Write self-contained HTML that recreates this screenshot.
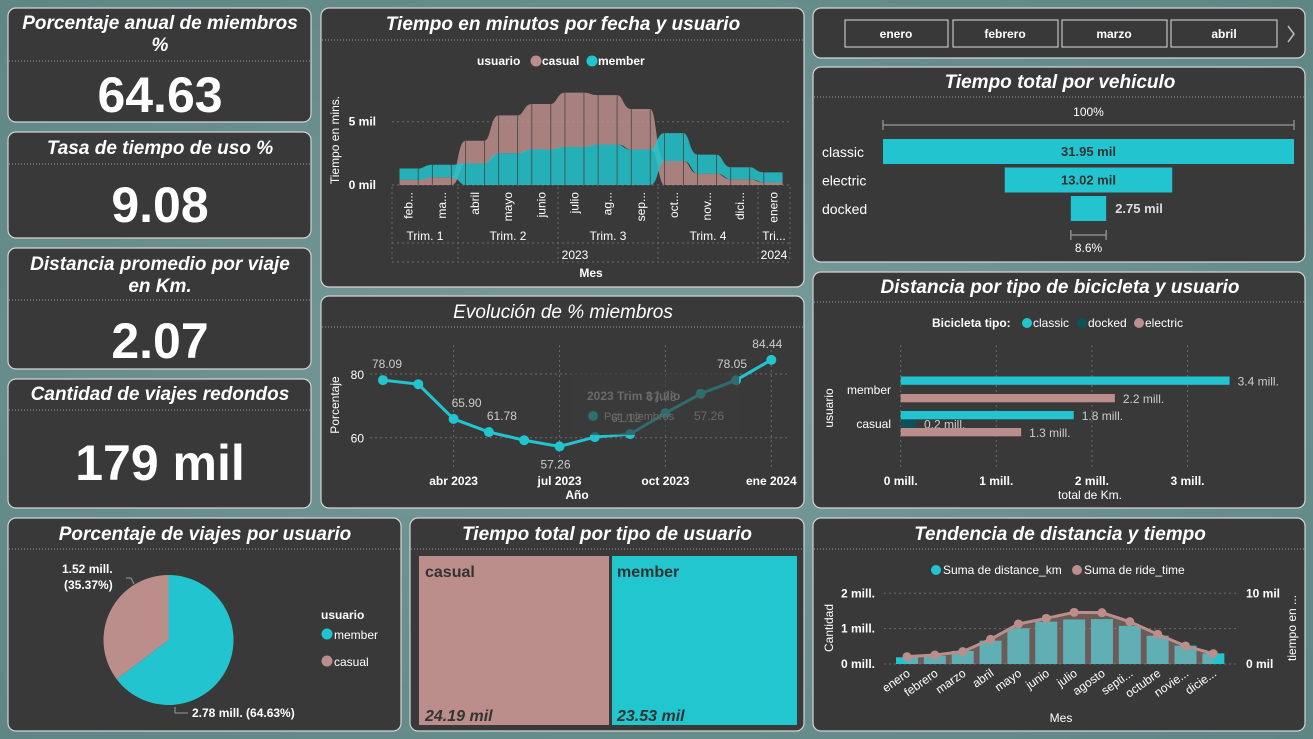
<!DOCTYPE html>
<html><head><meta charset="utf-8"><style>
html,body{margin:0;padding:0;width:1313px;height:739px;overflow:hidden;background:#6b8f8f;}
svg{display:block;font-family:"Liberation Sans",sans-serif;}
.t{fill:#fff;font-weight:bold;font-style:italic;font-size:19px;text-anchor:middle}
.sep{stroke:#9a9a9a;stroke-dasharray:1 2;stroke-width:1}
.pn{fill:#393939;stroke:#d4d4d4;stroke-width:1.2}
.k{fill:#fff;font-weight:bold;font-size:50px;text-anchor:middle}
.ax{fill:#fff;font-size:12px}
.axb{fill:#fff;font-size:12px;font-weight:bold}
.grid{stroke:#6a6a6a;stroke-dasharray:2 3;stroke-width:1}
</style></head><body>
<svg id="root" width="1313" height="739" viewBox="0 0 1313 739">
<defs><radialGradient id="bg" cx="50%" cy="50%" r="70%"><stop offset="0" stop-color="#7a9c9c"/><stop offset="1" stop-color="#5f8585"/></radialGradient></defs>
<rect width="1313" height="739" fill="url(#bg)"/>
<g>
<rect class="pn" x="8" y="8" width="303" height="114" rx="8"/>
<text class="t" x="160" y="29">Porcentaje anual de miembros</text>
<text class="t" x="160" y="51">%</text>
<line class="sep" x1="9" x2="310" y1="61" y2="61"/>
<text class="k" x="160" y="112">64.63</text></g>
<g>
<rect class="pn" x="8" y="132" width="303" height="106" rx="8"/>
<text class="t" x="160" y="154">Tasa de tiempo de uso %</text>
<line class="sep" x1="9" x2="310" y1="164" y2="164"/>
<text class="k" x="160" y="222">9.08</text></g>
<g>
<rect class="pn" x="8" y="248" width="303" height="121" rx="8"/>
<text class="t" x="160" y="270">Distancia promedio por viaje</text>
<text class="t" x="160" y="292">en Km.</text>
<line class="sep" x1="9" x2="310" y1="300" y2="300"/>
<text class="k" x="160" y="358">2.07</text></g>
<g>
<rect class="pn" x="8" y="379" width="303" height="129" rx="8"/>
<text class="t" x="160" y="400">Cantidad de viajes redondos</text>
<line class="sep" x1="9" x2="310" y1="410" y2="410"/>
<text class="k" x="160" y="480">179 mil</text></g>
<rect class="pn" x="321" y="8" width="483" height="279" rx="8"/>
<text class="t" x="563" y="30">Tiempo en minutos por fecha y usuario</text>
<line class="sep" x1="322" x2="803" y1="40" y2="40"/>
<rect class="pn" x="321" y="296" width="483" height="212" rx="8"/>
<text class="t" x="563" y="318" style="font-weight:normal">Evolución de % miembros</text>
<line class="sep" x1="322" x2="803" y1="327" y2="327"/>
<rect class="pn" x="813" y="8" width="492" height="50" rx="8"/>
<rect class="pn" x="813" y="67" width="492" height="195" rx="8"/>
<text class="t" x="1060" y="88">Tiempo total por vehiculo</text>
<line class="sep" x1="814" x2="1304" y1="97" y2="97"/>
<rect class="pn" x="813" y="272" width="492" height="236" rx="8"/>
<text class="t" x="1060" y="293">Distancia por tipo de bicicleta y usuario</text>
<line class="sep" x1="814" x2="1304" y1="302" y2="302"/>
<rect class="pn" x="8" y="518" width="393" height="213" rx="8"/>
<text class="t" x="205" y="540">Porcentaje de viajes por usuario</text>
<line class="sep" x1="9" x2="400" y1="549" y2="549"/>
<rect class="pn" x="410" y="518" width="394" height="213" rx="8"/>
<text class="t" x="607" y="540">Tiempo total por tipo de usuario</text>
<line class="sep" x1="411" x2="803" y1="549" y2="549"/>
<rect class="pn" x="813" y="518" width="492" height="213" rx="8"/>
<text class="t" x="1060" y="540">Tendencia de distancia y tiempo</text>
<line class="sep" x1="814" x2="1304" y1="549" y2="549"/>

<g><rect x="845" y="20" width="103" height="27" fill="none" stroke="#ddd"/><text class="axb" x="896" y="38" text-anchor="middle" font-size="13">enero</text></g>
<g><rect x="953" y="20" width="105" height="27" fill="none" stroke="#ddd"/><text class="axb" x="1005" y="38" text-anchor="middle">febrero</text></g>
<g><rect x="1062" y="20" width="105" height="27" fill="none" stroke="#ddd"/><text class="axb" x="1114" y="38" text-anchor="middle">marzo</text></g>
<g><rect x="1171" y="20" width="106" height="27" fill="none" stroke="#ddd"/><text class="axb" x="1224" y="38" text-anchor="middle">abril</text></g>
<path d="M1288 26 L1294 34 L1288 42" fill="none" stroke="#bbb" stroke-width="1.5"/>

<rect x="419" y="556" width="190" height="169" fill="#bc8e8b"/>
<rect x="612" y="556" width="185" height="169" fill="#22c6cf"/>
<text x="425" y="577" fill="#333" font-size="16" font-weight="bold">casual</text>
<text x="617" y="577" fill="#333" font-size="16" font-weight="bold">member</text>
<text x="425" y="721" fill="#333" font-size="16" font-weight="bold" font-style="italic">24.19 mil</text>
<text x="617" y="721" fill="#333" font-size="16" font-weight="bold" font-style="italic">23.53 mil</text>

<g id="c1"></g><g id="c2"></g><g id="c3"></g><g id="c4"></g><g id="c5"></g><g id="c6"></g>
</svg>
<script>
const NS='http://www.w3.org/2000/svg';
function mk(tag,attrs,parent,txt){const e=document.createElementNS(NS,tag);for(const k in attrs)e.setAttribute(k,attrs[k]);if(txt!==undefined)e.textContent=txt;parent.appendChild(e);return e;}
const TEAL='#22c5cf',ROSE='#bc8e8b',DTEAL='#0e5158';

const c1Months=['feb...','ma...','abril','mayo','junio','julio','ag...','sep...','oct...','nov...','dici...','enero'];
const c1Casual=[400,600,1800,3000,3600,4300,3900,3200,1900,900,450,200];
const c1Member=[900,1000,1700,2500,2800,3000,3200,2800,2200,1500,950,800];
const c1Ticks=[0,5000];
const c1TickLabels=['0 mil','5 mil'];
{
 const g=document.getElementById('c1');
 const y=v=>185-v*63.3/5000, x=i=>408.7+i*33.15, hw=9.5;
 c1Ticks.forEach((t,i)=>{
  const l=mk('line',{x1:392,x2:790,y1:y(t),y2:y(t),class:'grid'},g);
  
  
  const tx=mk('text',{x:376,y:y(t)+4,class:'axb','text-anchor':'end'},g,c1TickLabels[i]);
  
  
 });
 function band(getB,getT,color,name){
  let top='',bot=[];
  c1Months.forEach((m,i)=>{
   const x0=x(i)-hw,x1=x(i)+hw;
   top+=(i?' C'+(x0-8)+' '+y(getT(i-1))+' '+(x0-8)+' '+y(getT(i))+' ':'M')+x0+' '+y(getT(i))+' L'+x1+' '+y(getT(i));
   bot.unshift([x0,x1,i]);
  });
  let d=top;
  bot.forEach(([x0,x1,i],k)=>{
   if(k===0)d+=' L'+x1+' '+y(getB(i));
   else d+=' C'+(x1+8)+' '+y(getB(i+1))+' '+(x1+8)+' '+y(getB(i))+' '+x1+' '+y(getB(i));
   d+=' L'+x0+' '+y(getB(i));
  });
  d+='Z';
  const p=mk('path',{d:d,fill:color,opacity:0.85},g);
  
  
 }
 band(i=>c1Casual[i]<=c1Member[i]?0:c1Member[i], i=>c1Casual[i]<=c1Member[i]?c1Casual[i]:c1Casual[i]+c1Member[i], ROSE,'casual-ribbon');
 band(i=>c1Member[i]<c1Casual[i]?0:c1Casual[i], i=>c1Member[i]<c1Casual[i]?c1Member[i]:c1Casual[i]+c1Member[i], TEAL,'member-ribbon');
 c1Months.forEach((m,i)=>{
  [x(i)-hw,x(i)+hw].forEach(xx=>{mk('line',{x1:xx,x2:xx,y1:185,y2:y(c1Casual[i]+c1Member[i]),stroke:'#444','stroke-width':0.8},g);});
  const t=mk('text',{x:0,y:0,class:'ax',transform:`translate(${x(i)+4},${192}) rotate(-90)`,'text-anchor':'end'},g,m);
  
  
 });
 [392,458,558,658,758,790].forEach(xx=>mk('line',{x1:xx,x2:xx,y1:187,y2:262,class:'grid'},g));
 [243,262].forEach(yy=>mk('line',{x1:392,x2:790,y1:yy,y2:yy,class:'grid'},g));
 [['Trim. 1',425],['Trim. 2',508],['Trim. 3',608],['Trim. 4',708],['Tri...',774]].forEach(([s,xx])=>mk('text',{x:xx,y:240,class:'ax','text-anchor':'middle'},g,s));
 mk('text',{x:575,y:259,class:'ax','text-anchor':'middle'},g,'2023');
 mk('text',{x:774,y:259,class:'ax','text-anchor':'middle'},g,'2024');
 const xt=mk('text',{x:591,y:277,class:'axb','text-anchor':'middle'},g,'Mes');
 
 
 const yt=mk('text',{x:0,y:0,class:'ax',transform:'translate(339,140) rotate(-90)','text-anchor':'middle','font-size':'11'},g,'Tiempo en mins.');
 
 
 mk('text',{x:477,y:65,class:'axb'},g,'usuario');
 mk('circle',{cx:536,cy:61,r:5.5,fill:ROSE},g);
 mk('text',{x:542,y:65,class:'axb'},g,'casual');
 mk('circle',{cx:592,cy:61,r:5.5,fill:TEAL},g);
 mk('text',{x:598,y:65,class:'axb'},g,'member');
}

const c2Values=[78.09,76.8,65.90,61.78,59.2,57.26,60.2,61.12,67.73,73.8,78.05,84.44];
const c2Labels=['78.09','','65.90','61.78','','57.26','','61.12','67.73','','78.05','84.44'];
const c2Ticks=[60,80];
const c2XTicks=['abr 2023','jul 2023','oct 2023','ene 2024'];
const c2XTickIdx=[2,5,8,11];
{
 const g=document.getElementById('c2');
 const x=i=>383+i*35.3, y=v=>437.7-(v-60)*63.7/20;
 c2Ticks.forEach(t=>{mk('line',{x1:370,x2:790,y1:y(t),y2:y(t),class:'grid'},g);mk('text',{x:364,y:y(t)+5,class:'ax','text-anchor':'end'},g,String(t));});
 c2XTickIdx.forEach((ix,k)=>{mk('line',{x1:x(ix),x2:x(ix),y1:345,y2:470,class:'grid'},g);
  const t=mk('text',{x:x(ix),y:485,class:'axb','text-anchor':'middle'},g,c2XTicks[k]);
  
  });
 const l=mk('polyline',{points:c2Values.map((v,i)=>x(i)+','+y(v)).join(' '),fill:'none',stroke:TEAL,'stroke-width':3},g);
 
 
 c2Values.forEach((v,i)=>{
  const c=mk('circle',{cx:x(i),cy:y(v),r:5,fill:TEAL},g);
  
  
  if(c2Labels[i]){const below=(i===5);mk('text',{x:x(i)+(i===0?4:(i===2||i===3?13:-4)),y:below?y(v)+22:y(v)-12,fill:'#ccc','font-size':'12','text-anchor':'middle'},g,c2Labels[i]);}
 });
 const tip=mk('g',{},g);
 
 
 mk('rect',{x:571,y:372,width:168,height:63,fill:'#3a3a3a',opacity:0.65},tip);
 mk('text',{x:587,y:400,fill:'#6a6a6a','font-size':'12','font-weight':'bold'},tip,'2023 Trim 3 julio');
 mk('circle',{cx:593,cy:416,r:5,fill:'#2b6f73'},tip);
 mk('text',{x:604,y:420,fill:'#6a6a6a','font-size':'11'},tip,'Pct_miembros');
 mk('text',{x:709,y:420,fill:'#6a6a6a','font-size':'12','text-anchor':'middle'},tip,'57.26');
 const xt=mk('text',{x:577,y:499,class:'axb','text-anchor':'middle'},g,'Año');
 
 
 const yt=mk('text',{x:0,y:0,class:'ax',transform:'translate(339,405) rotate(-90)','text-anchor':'middle'},g,'Porcentaje');
 
 
}

const c3Cats=['classic','electric','docked'];
const c3Values=[31.95,13.02,2.75];
const c3Labels=['31.95 mil','13.02 mil','2.75 mil'];
{
 const g=document.getElementById('c3');
 const cx=1088.5, W=411, max=Math.max(...c3Values);
 mk('text',{x:cx,y:116,class:'ax','text-anchor':'middle'},g,'100%');
 mk('path',{d:`M883 120 V130 M883 125 H1294 M1294 120 V130`,stroke:'#888',fill:'none','stroke-width':1.5},g);
 c3Values.forEach((v,i)=>{
  const w=v/max*W, yy=139+i*28.5;
  const r=mk('rect',{x:cx-w/2,y:yy,width:w,height:25,fill:TEAL},g);
  
  
  mk('text',{x:822,y:yy+18,fill:'#fff','font-size':'14'},g,c3Cats[i]);
  if(w>80) mk('text',{x:cx,y:yy+17,fill:'#333','font-size':'13','font-weight':'bold','text-anchor':'middle'},g,c3Labels[i]);
  else mk('text',{x:cx+w/2+9,y:yy+17,fill:'#ddd','font-size':'13','font-weight':'bold'},g,c3Labels[i]);
 });
 const wl=c3Values[2]/max*W;
 mk('path',{d:`M${cx-wl/2} 230 V240 M${cx-wl/2} 235 H${cx+wl/2} M${cx+wl/2} 230 V240`,stroke:'#888',fill:'none','stroke-width':1.5},g);
 mk('text',{x:cx,y:252,class:'ax','text-anchor':'middle'},g,(c3Values[2]/max*100).toFixed(1)+'%');
}

const c4Users=['member','casual'];
const c4Classic=[3.44,1.81];
const c4Docked=[0,0.16];
const c4Electric=[2.24,1.26];
const c4Ticks=[0,1,2,3];
{
 const g=document.getElementById('c4');
 const x=v=>900.7+v*95.6;
 c4Ticks.forEach(t=>{mk('line',{x1:x(t),x2:x(t),y1:345,y2:470,class:'grid'},g);
  const tx=mk('text',{x:x(t),y:485,class:'axb','text-anchor':'middle'},g,t+' mill.');
  
  });
 const groups=[[{v:c4Classic[0],c:TEAL,y:376.5},{v:c4Electric[0],c:ROSE,y:394}],[{v:c4Classic[1],c:TEAL,y:411},{v:c4Docked[1],c:DTEAL,y:419.5},{v:c4Electric[1],c:ROSE,y:428}]];
 groups.forEach((gr,gi)=>{
  mk('text',{x:891,y:gi?428:394,class:'ax','text-anchor':'end','font-size':'13'},g,c4Users[gi]);
  gr.forEach(b=>{
   const r=mk('rect',{x:x(0),y:b.y,width:x(b.v)-x(0),height:8.3,fill:b.c},g);
   
   
   mk('text',{x:x(b.v)+8,y:b.y+9,fill:'#ccc','font-size':'12'},g,b.v.toFixed(1)+' mill.');
  });
 });
 mk('text',{x:1090,y:499,class:'ax','text-anchor':'middle'},g,'total de Km.');
 mk('text',{x:0,y:0,class:'ax',transform:'translate(833,408) rotate(-90)','text-anchor':'middle'},g,'usuario');
 mk('text',{x:932,y:327,class:'axb'},g,'Bicicleta tipo:');
 [['classic',TEAL,1027],['docked',DTEAL,1082],['electric',ROSE,1139]].forEach(([s,c,xx])=>{mk('circle',{cx:xx,cy:323,r:5,fill:c},g);mk('text',{x:xx+6,y:327,class:'ax'},g,s);});
}

const c5Cats=['member','casual'];
const c5Values=[2.78,1.52];
const c5Labels=['2.78 mill. (64.63%)','1.52 mill.','(35.37%)'];
{
 const g=document.getElementById('c5');
 const cx=168.5,cy=640,r=65,tot=c5Values.reduce((a,b)=>a+b,0);
 const col=[TEAL,ROSE];
 let a0=-Math.PI/2;
 c5Values.forEach((v,i)=>{
  const a1=a0+v/tot*2*Math.PI;
  const large=(a1-a0)>Math.PI?1:0;
  const p=mk('path',{d:`M${cx} ${cy} L${cx+r*Math.cos(a0)} ${cy+r*Math.sin(a0)} A${r} ${r} 0 ${large} 1 ${cx+r*Math.cos(a1)} ${cy+r*Math.sin(a1)}Z`,fill:col[i]},g);
  
  
  a0=a1;
 });
 mk('path',{d:'M175 707 V713 H188',stroke:'#999',fill:'none'},g);
 mk('path',{d:'M126 578 H131 L134 584',stroke:'#999',fill:'none'},g);
 mk('text',{x:192,y:717,fill:'#fff','font-size':'12','font-weight':'bold'},g,c5Labels[0]);
 mk('text',{x:62,y:573,fill:'#fff','font-size':'12','font-weight':'bold'},g,c5Labels[1]);
 mk('text',{x:64,y:589,fill:'#fff','font-size':'12','font-weight':'bold'},g,c5Labels[2]);
 mk('text',{x:321,y:619,class:'axb','font-size':'14'},g,'usuario');
 mk('circle',{cx:327,cy:634,r:5.5,fill:TEAL},g);mk('text',{x:334,y:639,class:'ax','font-size':'14'},g,'member');
 mk('circle',{cx:327,cy:661,r:5.5,fill:ROSE},g);mk('text',{x:334,y:666,class:'ax','font-size':'14'},g,'casual');
}

const c6Months=['enero','febrero','marzo','abril','mayo','junio','julio','agosto','septi...','octubre','novie...','dicie...'];
const c6Distance=[0.19,0.23,0.37,0.66,1.01,1.20,1.26,1.27,1.08,0.80,0.52,0.30];
const c6Time=[1.04,1.27,1.75,3.49,5.66,6.46,7.31,7.26,5.99,4.20,2.55,1.46];
const c6LeftTicks=['0 mill.','1 mill.','2 mill.'];
const c6RightTicks=['0 mil','10 mil'];
{
 const g=document.getElementById('c6');
 const x=i=>907+i*27.85, yL=v=>664-v*35.35, yR=v=>664-v*7.07;
 [0,1,2].forEach(t=>{mk('line',{x1:884,x2:1237,y1:yL(t),y2:yL(t),class:'grid'},g);
  mk('text',{x:875,y:yL(t)+4,class:'axb','text-anchor':'end'},g,c6LeftTicks[t]);});
 mk('text',{x:1246,y:yR(0)+4,class:'axb'},g,c6RightTicks[0]);
 mk('text',{x:1246,y:yR(10)+4,class:'axb'},g,c6RightTicks[1]);
 c6Distance.forEach((v,i)=>{
  const r=mk('rect',{x:x(i)-11,y:yL(v),width:22,height:yL(0)-yL(v),fill:TEAL},g);
  
  
 });
 const pts=c6Time.map((v,i)=>[x(i),yR(v)]);
 mk('path',{d:'M'+pts.map(p=>p.join(' ')).join(' L')+` L${x(11)} 664 L${x(0)} 664Z`,fill:'#bc8e8b',opacity:0.4},g);
 const l=mk('polyline',{points:pts.map(p=>p.join(',')).join(' '),fill:'none',stroke:ROSE,'stroke-width':3},g);
 
 
 pts.forEach(p=>{const c=mk('circle',{cx:p[0],cy:p[1],r:4.5,fill:ROSE},g);
  
  });
 c6Months.forEach((m,i)=>{const t=mk('text',{x:0,y:0,class:'ax','font-size':'12',fill:'#ddd','text-anchor':'end',transform:`translate(${x(i)+4},${675}) rotate(-35)`},g,m);
  
  });
 mk('text',{x:1061,y:722,class:'ax','text-anchor':'middle'},g,'Mes');
 mk('text',{x:0,y:0,class:'ax',transform:'translate(833,628) rotate(-90)','text-anchor':'middle'},g,'Cantidad');
 mk('text',{x:0,y:0,class:'ax',transform:'translate(1296,628) rotate(-90)','text-anchor':'middle'},g,'tiempo en ...');
 mk('circle',{cx:936,cy:570,r:5,fill:TEAL},g);mk('text',{x:943,y:574,class:'ax'},g,'Suma de distance_km');
 mk('circle',{cx:1077,cy:570,r:5,fill:ROSE},g);mk('text',{x:1084,y:574,class:'ax'},g,'Suma de ride_time');
}
</script>
</body></html>
